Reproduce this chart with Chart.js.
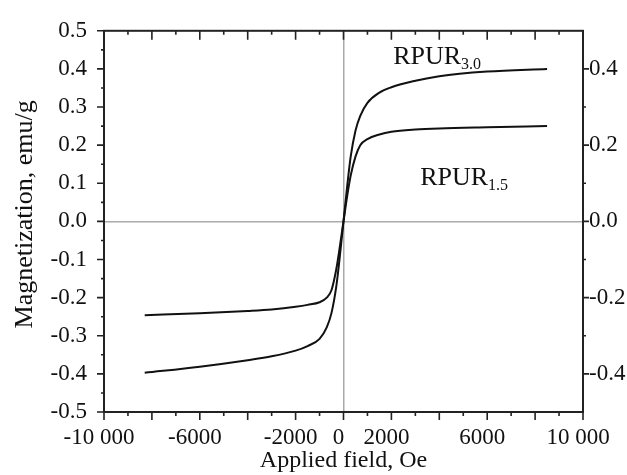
<!DOCTYPE html>
<html>
<head>
<meta charset="utf-8">
<script src="https://cdn.jsdelivr.net/npm/chart.js@4/dist/chart.umd.min.js"></script>
<style>
html,body{margin:0;padding:0;background:#fff;}
#wrap{width:627px;height:475px;position:relative;}
</style>
</head>
<body>
<div id="wrap"><canvas id="c" width="627" height="475"></canvas></div>
<script>
// ---- data ----
const fieldOe = [-8300,-6000,-4000,-3000,-2000,-1500,-1000,-700,-500,-300,-150,0,150,300,500,700,1000,1500,2000,3000,4000,6000,8500];
const rpur30  = [-0.397,-0.381,-0.364,-0.354,-0.339,-0.327,-0.308,-0.278,-0.240,-0.170,-0.090,0,0.090,0.170,0.238,0.277,0.311,0.338,0.352,0.369,0.381,0.393,0.400];
const rpur15  = [-0.246,-0.241,-0.235,-0.231,-0.224,-0.219,-0.212,-0.200,-0.180,-0.125,-0.065,0,0.065,0.120,0.170,0.200,0.216,0.228,0.235,0.241,0.244,0.247,0.250];
const xLabelValues = [-10000,-6000,-2000,0,2000,6000,10000];
const yRightLabelValues = [0.4,0.2,0,-0.2,-0.4];
const seriesNames = ['RPUR3.0','RPUR1.5'];
const yTitle = 'Magnetization, emu/g';
const annotations = [
  {main:'RPUR', sub:'3.0', x:2075, y:0.413},
  {main:'RPUR', sub:'1.5', x:3200, y:0.095}
];
// ---- chart ----
const FONT = "'Liberation Serif','Times New Roman',serif";
const fmtX = v => { if (v===0) return '0'; const s = Math.abs(v)>=10000 ? String(Math.abs(v)).replace(/(\d+)(\d{3})$/,'$1 $2') : String(Math.abs(v)); return (v<0?'-':'')+s; };

const ticksPlugin = {
  id:'ticksPlugin',
  afterDatasetsDraw(chart){
    const {ctx, chartArea:a, scales} = chart;
    const xs = scales.x, ys = scales.y;
    ctx.save();
    ctx.strokeStyle = '#222';
    ctx.lineWidth = 1.6;
    ctx.beginPath();
    for (let v=-10000; v<=10000; v+=1000){
      const px = xs.getPixelForValue(v);
      const major = v%2000===0;
      ctx.moveTo(px, a.bottom); ctx.lineTo(px, a.bottom + (major?8:4));
      ctx.moveTo(px, a.top); ctx.lineTo(px, a.top + (major?9:4));
    }
    for (let i=-10;i<=10;i++){
      const v=i*0.05, py=ys.getPixelForValue(v);
      const major = i%2===0;
      ctx.moveTo(a.left, py); ctx.lineTo(a.left-(major?7:3), py);
    }
    for (let i=-4;i<=4;i++){
      const v=i*0.1, py=ys.getPixelForValue(v);
      const major = i%2===0;
      ctx.moveTo(a.right, py); ctx.lineTo(a.right+(major?6:3), py);
    }
    ctx.stroke();
    ctx.lineWidth = 2;
    ctx.strokeRect(a.left, a.top, a.right-a.left, a.bottom-a.top);
    // annotations
    ctx.fillStyle = '#111';
    ctx.textBaseline = 'alphabetic';
    annotations.forEach(an=>{
      const px = xs.getPixelForValue(an.x), py = ys.getPixelForValue(an.y);
      ctx.font = "26px "+FONT;
      ctx.fillText(an.main, px, py);
      const w = ctx.measureText(an.main).width;
      ctx.font = "16px "+FONT;
      ctx.fillText(an.sub, px+w, py+5);
    });
    // y-axis title
    ctx.translate(25, (a.top+a.bottom)/2 - 7);
    ctx.rotate(-Math.PI/2);
    ctx.textAlign = 'center';
    ctx.textBaseline = 'middle';
    ctx.font = "26px "+FONT;
    ctx.fillText(yTitle, 0, 0);
    ctx.restore();
  }
};

new Chart(document.getElementById('c'), {
  type:'line',
  data:{
    datasets:[
      {label:seriesNames[0], data:fieldOe.map((x,i)=>({x, y:rpur30[i]})), borderColor:'#111', borderWidth:2, pointRadius:0, cubicInterpolationMode:'monotone', fill:false},
      {label:seriesNames[1], data:fieldOe.map((x,i)=>({x, y:rpur15[i]})), borderColor:'#111', borderWidth:2, pointRadius:0, cubicInterpolationMode:'monotone', fill:false}
    ]
  },
  options:{
    responsive:false, animation:false,
    layout:{padding:{left:0, right:0, top:19, bottom:0}},
    plugins:{legend:{display:false}, tooltip:{enabled:false}},
    scales:{
      x:{
        type:'linear', min:-10000, max:10000,
        afterBuildTicks(s){ const t=[]; for(let v=-10000; v<=10000; v+=1000) t.push({value:v}); s.ticks=t; },
        afterFit(s){ s.height = 63; },
        grid:{drawTicks:false, color:c=> (c.tick && c.tick.value===0) ? '#aaa' : 'rgba(0,0,0,0)', lineWidth:1.5},
        border:{display:false},
        ticks:{autoSkip:false, maxRotation:0, padding:12, labelOffset:-5, color:'#111', font:{family:FONT, size:23},
          callback:(v)=> xLabelValues.some(l=>l===v) ? fmtX(v) : ''},
        title:{display:true, text:'Applied field, Oe', color:'#111', font:{family:FONT, size:24}, padding:{top:0,bottom:0}}
      },
      y:{
        type:'linear', position:'left', min:-0.5, max:0.5,
        afterBuildTicks(s){ const t=[]; for(let i=-5;i<=5;i++) t.push({value:i/10}); s.ticks=t; },
        afterFit(s){ s.width = 104; },
        grid:{drawTicks:false, color:c=> (c.tick && Math.abs(c.tick.value)<1e-9) ? '#aaa' : 'rgba(0,0,0,0)', lineWidth:1.5},
        border:{display:false},
        ticks:{autoSkip:false, padding:17, color:'#111', font:{family:FONT, size:23},
          callback:(v)=> (Math.round(v*10)/10).toFixed(1).replace('-0.0','0.0')},
        title:{display:false}
      },
      y2:{
        type:'linear', position:'right', min:-0.5, max:0.5,
        afterBuildTicks(s){ s.ticks = yRightLabelValues.map(v=>({value:v})); },
        afterFit(s){ s.width = 44; },
        grid:{display:false, drawTicks:false},
        border:{display:false},
        ticks:{autoSkip:false, padding:6, color:'#111', font:{family:FONT, size:23},
          callback:(v)=> (Math.round(v*10)/10).toFixed(1).replace('-0.0','0.0')}
      }
    }
  },
  plugins:[ticksPlugin]
});
</script>
</body>
</html>
